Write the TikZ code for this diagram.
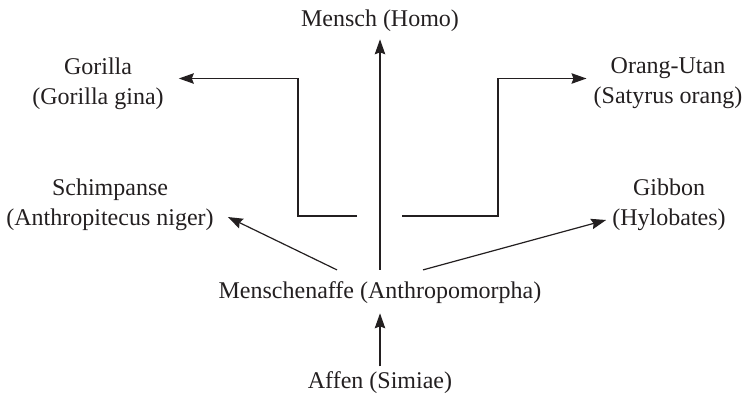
\documentclass[tikz,border=0pt]{standalone}
\usepackage{fontspec}
\setmainfont{Liberation Serif}
\usetikzlibrary{arrows.meta,calc}
\definecolor{ink}{HTML}{231F20}
\begin{document}
\begin{tikzpicture}[x=1pt,y=1pt,
  lbl/.style={inner sep=0pt, align=center, text=ink, font=\fontsize{24}{30}\selectfont},
  arr/.style={draw=ink, line width=1.2pt, -{Stealth[length=15pt,width=10.5pt,inset=2pt]}},
  ln/.style={draw=ink, line width=1.2pt}]
\useasboundingbox (0,0) rectangle (745,-397);
% nodes
\node[lbl, anchor=base] (mensch) at (380,-26) {Mensch (Homo)};
\node[lbl] (gor) at (98,-83.5) {Gorilla\\(Gorilla gina)};
\node[lbl] (orang) at (668,-83.5) {Orang-Utan\\(Satyrus orang)};
\node[lbl] (schimp) at (110,-205) {Schimpanse\\(Anthropitecus niger)};
\node[lbl] (gib) at (669,-205) {Gibbon\\(Hylobates)};
\node[lbl, anchor=base] (ma) at (380,-298) {Menschenaffe (Anthropomorpha)};
\node[lbl, anchor=base] (affen) at (380,-388) {Affen (Simiae)};
% bend coordinates
\coordinate (gs) at (357,-216);
\coordinate (gb) at (298,-216);
\coordinate (os) at (402,-216);
\coordinate (ob) at (498,-216);
% connectors
\draw[arr, shorten <=11pt, shorten >=8pt] (ma.north) -- (mensch.south);
\draw[arr, shorten <=4.5pt, shorten >=10pt] (affen.north) -- (ma.south);
\draw[arr] (gs) -- (gb) |- ($(gor.east)+(15,5)$);
\draw[arr] (os) -- (ob) |- ($(orang.west)+(-7,5)$);
\draw[arr] ($(ma.north)+(-43,11)$) -- ($(schimp.east)+(14,-12)$);
\draw[arr] ($(ma.north)+(43,11)$) -- ($(gib.west)+(-6,-15)$);
\end{tikzpicture}
\end{document}
